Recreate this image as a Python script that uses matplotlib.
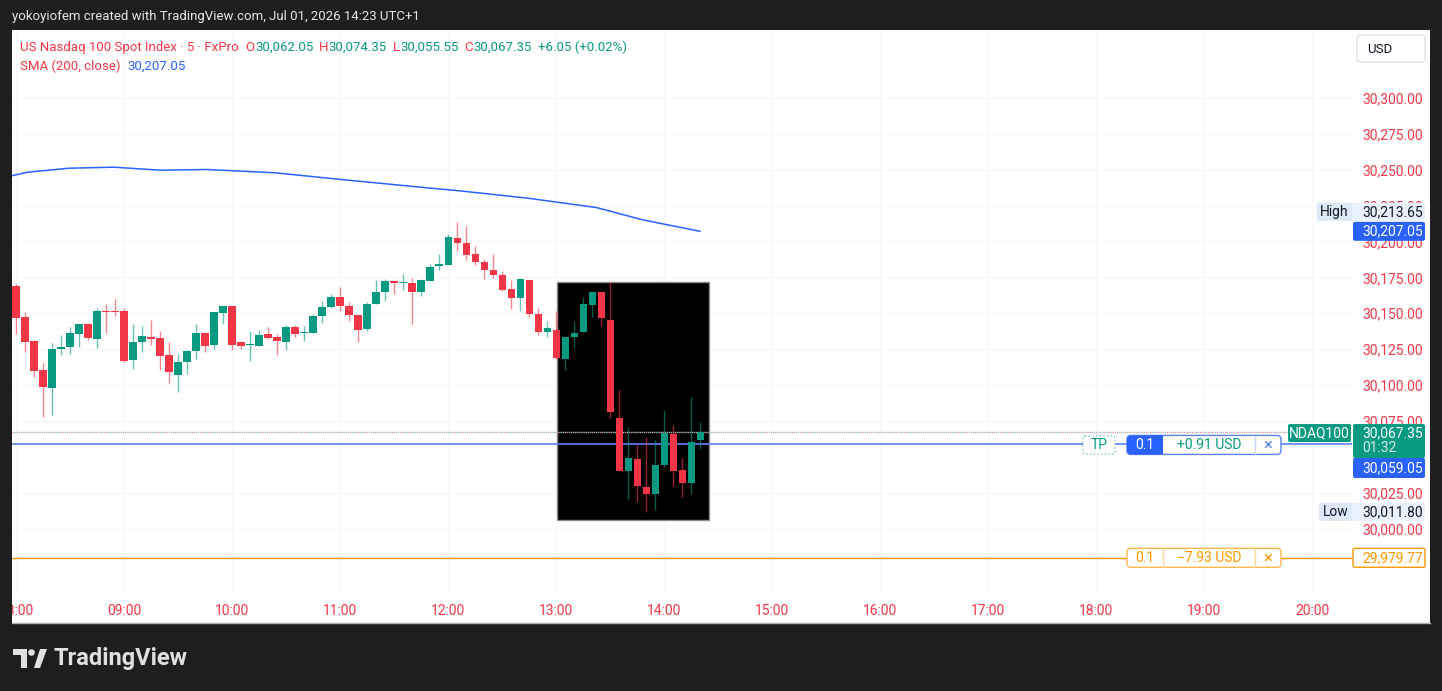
import matplotlib.pyplot as plt
import matplotlib.patches as mpatches
import numpy as np

plt.rcParams['font.family'] = ['Roboto', 'DejaVu Sans']

# 5 minute bars, first bar 08:00
opens = [30168.7, 30147.1, 30130.6, 30110.4, 30097.9, 30125.3, 30126.7, 30135.8, 30142.2, 30132.3,
         30151.5, 30151.5, 30151.5, 30117.2, 30130.2, 30133.7, 30132.7, 30120.8, 30107.2, 30116.3,
         30123.9, 30136.2, 30127.8, 30150.4, 30155.4, 30129.9, 30128.1, 30127.4, 30135.5, 30133.2,
         30130.2, 30140.3, 30136.4, 30136.4, 30148.0, 30154.3, 30161.0, 30155.4, 30148.7, 30139.4,
         30156.3, 30164.7, 30172.6, 30170.9, 30170.9, 30164.7, 30172.3, 30182.6, 30183.8, 30202.3,
         30198.8, 30191.1, 30185.6, 30179.8, 30176.5, 30166.6, 30160.3, 30173.3, 30149.7, 30136.8,
         30138.7, 30118.3, 30133.4, 30137.3, 30155.6, 30165.0, 30145.0, 30077.0, 30039.9, 30048.7,
         30029.3, 30024.4, 30044.6, 30066.3, 30040.8, 30032.2, 30062.05]
highs = [30170.5, 30150.6, 30131.1, 30115.1, 30129.0, 30135.0, 30140.6, 30142.7, 30143.4, 30153.4,
         30156.6, 30160.1, 30153.8, 30142.7, 30141.0, 30145.0, 30137.8, 30129.7, 30121.5, 30124.6,
         30142.7, 30137.1, 30150.6, 30155.6, 30155.4, 30129.9, 30137.8, 30138.7, 30140.6, 30135.3,
         30142.0, 30142.0, 30141.5, 30149.7, 30158.7, 30163.1, 30168.5, 30157.7, 30148.7, 30158.2,
         30173.3, 30174.0, 30172.6, 30177.5, 30174.9, 30174.0, 30184.5, 30191.6, 30204.9, 30213.65,
         30210.9, 30196.7, 30188.1, 30191.6, 30179.1, 30173.3, 30174.4, 30173.3, 30153.6, 30144.8,
         30151.3, 30134.4, 30144.8, 30161.0, 30165.0, 30165.0, 30172.1, 30096.5, 30071.0, 30059.2,
         30063.6, 30062.0, 30082.6, 30071.9, 30049.6, 30091.4, 30074.35]
lows = [30135.7, 30122.9, 30105.5, 30077.7, 30079.1, 30121.1, 30121.8, 30126.4, 30131.3, 30125.5,
        30136.2, 30148.0, 30116.3, 30110.9, 30122.9, 30128.1, 30110.4, 30101.6, 30095.1, 30107.9,
        30117.9, 30122.9, 30125.0, 30142.7, 30124.3, 30125.0, 30116.7, 30127.1, 30132.0, 30121.1,
        30124.6, 30133.2, 30130.4, 30136.2, 30143.4, 30153.6, 30151.8, 30144.5, 30129.7, 30138.0,
        30156.3, 30158.7, 30163.6, 30166.1, 30142.4, 30161.9, 30172.3, 30179.8, 30183.8, 30193.5,
        30187.0, 30183.5, 30174.0, 30174.4, 30165.2, 30153.3, 30151.8, 30147.3, 30134.8, 30133.2,
        30118.3, 30110.2, 30126.7, 30137.3, 30147.3, 30141.3, 30076.8, 30039.9, 30020.4, 30018.5,
        30011.8, 30013.2, 30042.9, 30028.8, 30021.8, 30024.4, 30055.55]
closes = [30146.4, 30130.2, 30109.7, 30098.4, 30125.3, 30126.7, 30136.0, 30142.2, 30132.7, 30151.5,
          30151.1, 30150.6, 30116.7, 30129.9, 30134.4, 30131.8, 30120.6, 30109.0, 30116.0, 30123.9,
          30136.2, 30127.4, 30150.6, 30155.0, 30128.1, 30127.4, 30128.5, 30135.0, 30132.7, 30130.6,
          30140.6, 30135.8, 30136.8, 30148.3, 30154.7, 30161.5, 30155.2, 30148.7, 30138.5, 30156.6,
          30165.0, 30172.6, 30170.8, 30171.4, 30164.7, 30173.3, 30182.1, 30184.5, 30202.8, 30198.6,
          30190.9, 30185.4, 30180.3, 30177.0, 30166.1, 30160.3, 30173.7, 30149.7, 30136.8, 30139.8,
          30118.8, 30133.4, 30136.2, 30156.6, 30165.0, 30146.4, 30081.2, 30039.9, 30049.2, 30029.5,
          30023.9, 30044.1, 30066.8, 30039.9, 30032.2, 30060.3, 30067.35]

# SMA(200) read at a few bars
sma_bar = [-0.5, 1.3, 5.9, 10.9, 16.1, 21.2, 28.8, 36.5, 44.1, 49.2, 56.9, 64.5, 69.6, 76]
sma_vals = [30245.7, 30248.2, 30251.0, 30251.7, 30249.6, 30250.1, 30247.8, 30242.9,
            30238.3, 30235.3, 30230.1, 30223.6, 30215.1, 30207.05]

hour_labels = ['08:00', '09:00', '10:00', '11:00', '12:00', '13:00', '14:00',
               '15:00', '16:00', '17:00', '18:00', '19:00', '20:00']
price_ticks = [30000, 30025, 30075, 30100, 30125, 30150,
               30175, 30200, 30225, 30250, 30275, 30300]

change_text = '+6.05 (+0.02%)'
entry_price = 30059.05
stop_price = 29979.77
day_high = 30213.65
day_low = 30011.80
pnl_tp = '+0.91 USD'
pnl_sl = '\u22127.93 USD'

RED = '#F23645'
GREEN = '#089981'
BLUE = '#2962FF'
ORANGE = '#FF9800'
DARK = '#1e1e1e'

W, H = 1442, 691
fig = plt.figure(figsize=(W / 100, H / 100), dpi=100, facecolor=DARK)

bg = fig.add_axes([0, 0, 1, 1])
bg.set_xlim(0, W); bg.set_ylim(H, 0); bg.axis('off')
bg.add_patch(mpatches.Rectangle((12, 30), 1418, 593, facecolor='white', edgecolor='none'))
bg.plot([12, 1430], [623, 623], color='#b0b0b0', lw=1)

# chart pane
ax = fig.add_axes([12 / W, 1 - 595 / H, 1340 / W, 565 / H])
ax.set_facecolor('none')
ax.set_xlim(-0.444, 148.44)
ax.set_ylim(29953.9, 30347.2)
for s in ax.spines.values():
    s.set_visible(False)
ax.yaxis.tick_right()
ax.set_yticks(price_ticks)
ax.set_yticklabels([f'{p:,.2f}' for p in price_ticks])
ax.set_xticks(range(0, 12 * len(hour_labels), 12))
ax.set_xticklabels(hour_labels)
ax.tick_params(axis='y', length=0, pad=7.2, labelcolor=RED, labelsize=10)
ax.tick_params(axis='x', length=0, pad=6.5, labelcolor=RED, labelsize=10)
ax.grid(True, color='#f7f8fa', lw=1, zorder=0)
ax.set_axisbelow(True)

o = np.array(opens); c = np.array(closes)
idx = np.arange(len(o))
col = np.where(c >= o, GREEN, RED)
ax.add_patch(mpatches.Rectangle((60.1, 30005.8), 16.9, 166.3, facecolor='black',
                                edgecolor='#8c8c84', lw=1, zorder=1.5))
ax.plot(sma_bar, sma_vals, color=BLUE, lw=1.1, zorder=2)
ax.axhline(closes[-1], color='#ee8fa0', lw=1, ls=(0, (1, 2)), zorder=2.4)
ax.axhline(closes[-1], color='#8fcfd0', lw=1, ls=(1.5, (1, 2)), zorder=2.4)
ax.axhline(entry_price, color='#5b80f6', lw=1.2, zorder=2.5)
ax.axhline(stop_price, color=ORANGE, lw=1, zorder=2.5)
ax.vlines(idx, lows, highs, colors=col, lw=1, alpha=0.6, zorder=3)
body = np.maximum(np.abs(c - o), 0.8)
ax.bar(idx, body, bottom=np.minimum(o, c), width=0.78, color=col, lw=0, zorder=4)

# overlay in pixel coordinates
ov = fig.add_axes([0, 0, 1, 1])
ov.set_xlim(0, W); ov.set_ylim(H, 0); ov.axis('off')
ren = fig.canvas.get_renderer()


def py(p):
    return H - ax.transData.transform((0, p))[1]


def seq(x, y, parts, size=9.5):
    for txt, color, gap in parts:
        t = ov.text(x, y, txt, color=color, fontsize=size, va='center', ha='left')
        x += t.get_window_extent(ren).width + gap


def box(x0, y0, x1, y1, fc, ec='none', ls='-', r=2, lw=1):
    ov.add_patch(mpatches.FancyBboxPatch((x0, y0), x1 - x0, y1 - y0,
                                         boxstyle=f'round,pad=0,rounding_size={r}',
                                         facecolor=fc, edgecolor=ec, ls=ls, lw=lw))


ov.text(12, 16, 'yokoyiofem created with TradingView.com, Jul 01, 2026 14:23 UTC+1',
        color='#e6e6e6', fontsize=9.5, va='center')
seq(20, 47, [('US Nasdaq 100 Spot Index \u00b7 5 \u00b7 FxPro', RED, 7),
             ('O', RED, 0), (f'{opens[-1]:,.2f}', GREEN, 6),
             ('H', RED, 0), (f'{highs[-1]:,.2f}', GREEN, 6),
             ('L', RED, 0), (f'{lows[-1]:,.2f}', GREEN, 6),
             ('C', RED, 0), (f'{closes[-1]:,.2f}', GREEN, 6),
             (change_text, GREEN, 0)])
seq(20, 66, [('SMA (200, close)', RED, 7), (f'{sma_vals[-1]:,.2f}', BLUE, 0)])

box(1357, 35, 1425, 62, 'white', '#e0e3eb', r=4)
ov.text(1367, 49, 'USD', color='#131722', fontsize=9.5, va='center')

# right scale labels
ys = py(sma_vals[-1])
box(1353, ys - 9.5, 1425, ys + 9.5, BLUE)
ov.text(1362, ys, f'{sma_vals[-1]:,.2f}', color='white', fontsize=10, va='center')
yh = ys - 19.5
box(1317, yh - 9, 1425, yh + 9, '#e9f1fd')
box(1317, yh - 9, 1352, yh + 9, '#dde8f8')
ov.text(1334.5, yh, 'High', color='#131722', fontsize=10, va='center', ha='center')
ov.text(1362, yh, f'{day_high:,.2f}', color='#131722', fontsize=10, va='center')

yl = py(day_low)
box(1319, yl - 9, 1425, yl + 9, '#e9f1fd')
box(1319, yl - 9, 1352, yl + 9, '#dde8f8')
ov.text(1335.5, yl, 'Low', color='#131722', fontsize=10, va='center', ha='center')
ov.text(1362, yl, f'{day_low:,.2f}', color='#131722', fontsize=10, va='center')

yc = py(closes[-1])
box(1288, yc - 8, 1351, yc + 10, GREEN)
ov.text(1319.5, yc + 1, 'NDAQ100', color='white', fontsize=10, va='center', ha='center')
box(1353, yc - 8, 1425, yc + 26, GREEN)
ov.text(1362, yc + 1, f'{closes[-1]:,.2f}', color='white', fontsize=10, va='center')
ov.text(1362, yc + 16, '01:32', color='#d6efe9', fontsize=10, va='center')
box(1353, yc + 26, 1425, yc + 46, BLUE)
ov.text(1362, yc + 36, f'{entry_price:,.2f}', color='white', fontsize=10, va='center')

yo = py(stop_price)
box(1353, yo - 9.5, 1425, yo + 9.5, 'white', ORANGE)
ov.text(1362, yo, f'{stop_price:,.2f}', color=ORANGE, fontsize=10, va='center')

# position / stop widgets
ye = py(entry_price) + 1
box(1083, ye - 9, 1115, ye + 9, 'white', '#7cc9bd', ls=':', r=2)
ov.text(1099, ye, 'TP', color=GREEN, fontsize=10, va='center', ha='center')
box(1127, ye - 9.5, 1281, ye + 9.5, 'white', '#5b80f6', r=4)
box(1127, ye - 9.5, 1163, ye + 9.5, BLUE, r=4)
ov.add_patch(mpatches.Rectangle((1155, ye - 9.5), 8, 19, facecolor=BLUE, edgecolor='none'))
ov.text(1145, ye, '0.1', color='white', fontsize=10, va='center', ha='center')
ov.text(1209, ye, pnl_tp, color=GREEN, fontsize=10, va='center', ha='center')
ov.plot([1255, 1255], [ye - 9, ye + 9], color='#c6d4fb', lw=1)
ov.text(1268, ye, '\u00d7', color='#5b80f6', fontsize=12, va='center', ha='center')

box(1127, yo - 9.5, 1281, yo + 9.5, 'white', '#ffb74d', r=4)
ov.plot([1163, 1163], [yo - 9, yo + 9], color='#ffd699', lw=1)
ov.plot([1255, 1255], [yo - 9, yo + 9], color='#ffd699', lw=1)
ov.text(1145, yo, '0.1', color=ORANGE, fontsize=10, va='center', ha='center')
ov.text(1209, yo, pnl_sl, color=ORANGE, fontsize=10, va='center', ha='center')
ov.text(1268, yo, '\u00d7', color=ORANGE, fontsize=12, va='center', ha='center')

# hide the part of the 08:00 label outside the panel
ov.add_patch(mpatches.Rectangle((0, 590), 12, 34, facecolor=DARK, edgecolor='none'))

# TradingView logo
logo = '#e0e0e0'
ov.add_patch(mpatches.Polygon([(13, 649), (27, 649), (27, 668), (21, 668), (21, 655), (13, 655)],
                              closed=True, facecolor=logo, edgecolor='none'))
ov.add_patch(mpatches.Circle((31.5, 652.5), 3.3, facecolor=logo, edgecolor='none'))
ov.add_patch(mpatches.Polygon([(34, 668), (40, 649), (47, 649), (40, 668)],
                              closed=True, facecolor=logo, edgecolor='none'))
ov.text(54, 658, 'TradingView', color=logo, fontsize=17, fontweight='bold', va='center')

fig.savefig('out.png', dpi=100, facecolor=fig.get_facecolor())
